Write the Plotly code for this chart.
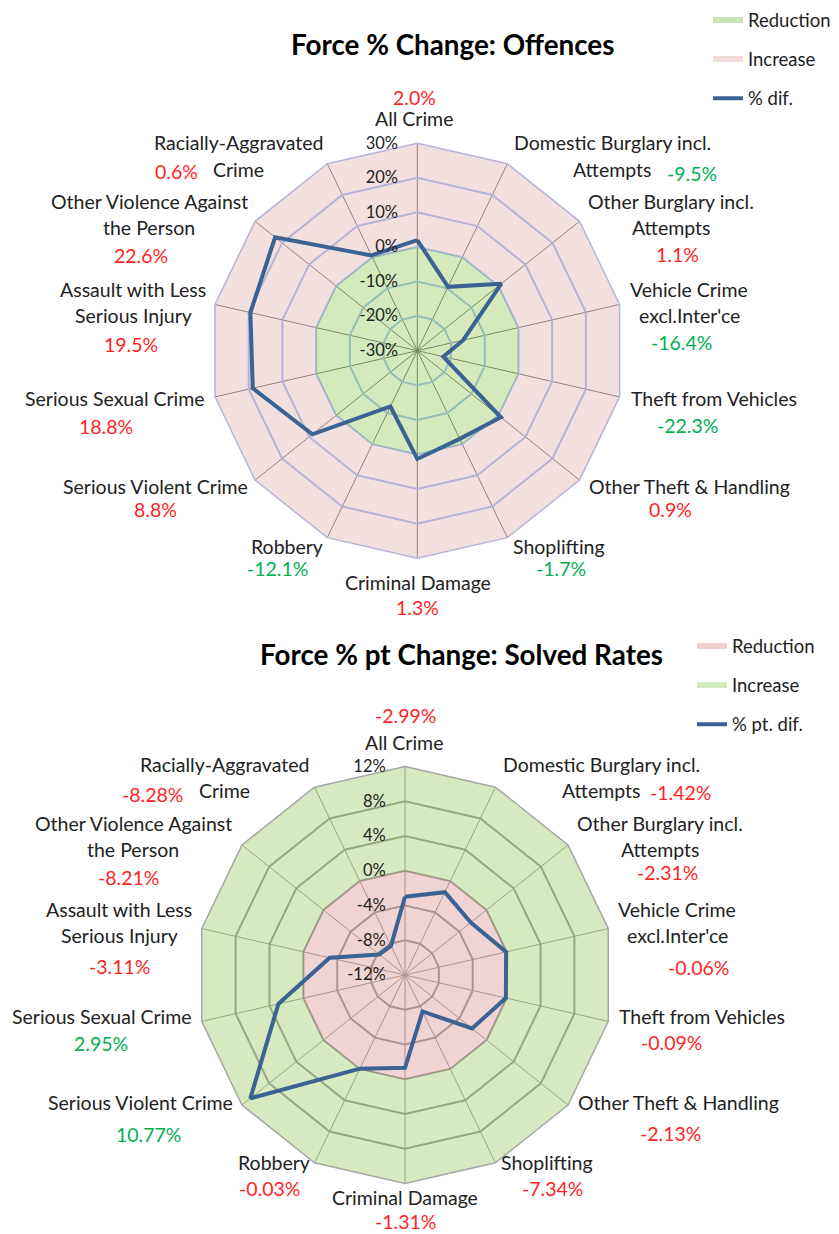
import plotly.graph_objects as go

W, H = 839, 1234

categories = [
    "All Crime", "Domestic Burglary incl. Attempts", "Other Burglary incl. Attempts",
    "Vehicle Crime excl.Inter'ce", "Theft from Vehicles", "Other Theft & Handling",
    "Shoplifting", "Criminal Damage", "Robbery", "Serious Violent Crime",
    "Serious Sexual Crime", "Assault with Less Serious Injury",
    "Other Violence Against the Person", "Racially-Aggravated Crime",
]
category_lines = [
    ["All Crime"], ["Domestic Burglary incl.", "Attempts"], ["Other Burglary incl.", "Attempts"],
    ["Vehicle Crime", "excl.Inter'ce"], ["Theft from Vehicles"], ["Other Theft & Handling"],
    ["Shoplifting"], ["Criminal Damage"], ["Robbery"], ["Serious Violent Crime"],
    ["Serious Sexual Crime"], ["Assault with Less", "Serious Injury"],
    ["Other Violence Against", "the Person"], ["Racially-Aggravated", "Crime"],
]
offences_change = [2.0, -9.5, 1.1, -16.4, -22.3, 0.9, -1.7, 1.3, -12.1, 8.8, 18.8, 19.5, 22.6, 0.6]
solved_change = [-2.99, -1.42, -2.31, -0.06, -0.09, -2.13, -7.34, -1.31, -0.03, 10.77, 2.95, -3.11, -8.21, -8.28]
offences_ticks = [-30, -20, -10, 0, 10, 20, 30]
solved_ticks = [-12, -8, -4, 0, 4, 8, 12]

# label placement (pixel centres): first line of name, then value
top_name_pos = [(414, 119), (612, 143), (671, 202), (689, 289), (714, 398), (689, 486), (559, 546),
                (418, 582), (287, 546), (155, 486), (115, 398), (133, 289), (149, 202), (238, 143)]
top_val_pos = [(414, 97), (692, 173), (677, 254), (681, 342), (687, 425), (670, 509), (561, 568),
               (417, 607), (277, 568), (155, 509), (106, 426), (131, 344), (141, 255), (176, 171)]
bot_name_pos = [(404, 742), (601, 764), (660, 823), (677, 909), (702, 1016), (678, 1102), (547, 1162),
                (405, 1197), (274, 1162), (140, 1102), (102, 1016), (119, 909), (133, 823), (224, 764)]
bot_val_pos = [(405, 715), (680, 793), (667, 872), (698, 967), (671, 1042), (670, 1133), (552, 1188),
               (405, 1221), (269, 1188), (148, 1134), (101, 1043), (119, 966), (128, 878), (152, 794)]

FONT = "Lato"
TXT = "#222222"
RED = "#ff1f1f"
GREEN = "#00b050"
LINE = "#3a6293"
LINE_GAP = 26
LABEL_SIZE = 19.5


def px(x):
    return x / W


def py(y):
    return 1 - y / H


def closed(vals):
    return list(vals) + [vals[0]]


theta = closed(categories)
# outer ring clockwise, then inner ring back the other way -> filled band with a hole
ring_theta = theta + [categories[0]] + categories[::-1]


def band(r_in, r_out):
    return [r_out] * 15 + [r_in] * 15


fig = go.Figure()

# ---- top chart: offences (Increase band 0..30 pink, Reduction -30..0 green)
fig.add_trace(go.Scatterpolar(r=band(0, offences_ticks[-1]), theta=ring_theta, mode="lines", fill="toself",
                              fillcolor="rgba(231,199,195,0.55)", line=dict(width=0),
                              subplot="polar", showlegend=False, hoverinfo="skip"))
fig.add_trace(go.Scatterpolar(r=[0] * 15, theta=theta, mode="lines", fill="toself",
                              fillcolor="rgba(177,217,133,0.55)", line=dict(width=0),
                              subplot="polar", showlegend=False, hoverinfo="skip"))
fig.add_trace(go.Scatterpolar(r=closed(offences_change), theta=theta, mode="lines",
                              line=dict(color=LINE, width=4), subplot="polar", showlegend=False))

# ---- bottom chart: solved rates (Increase band 0..12 green, Reduction -12..0 pink)
fig.add_trace(go.Scatterpolar(r=band(0, solved_ticks[-1]), theta=ring_theta, mode="lines", fill="toself",
                              fillcolor="rgba(182,215,141,0.55)", line=dict(width=0),
                              subplot="polar2", showlegend=False, hoverinfo="skip"))
fig.add_trace(go.Scatterpolar(r=[0] * 15, theta=theta, mode="lines", fill="toself",
                              fillcolor="rgba(228,177,177,0.55)", line=dict(width=0),
                              subplot="polar2", showlegend=False, hoverinfo="skip"))
fig.add_trace(go.Scatterpolar(r=closed(solved_change), theta=theta, mode="lines",
                              line=dict(color=LINE, width=4), subplot="polar2", showlegend=False))

# ---- legends
legend_items = [
    ("Reduction", "#c9e5b5", 6, "legend"), ("Increase", "#f2dcdb", 6, "legend"), ("% dif.", LINE, 4, "legend"),
    ("Reduction", "#f0cfcf", 6, "legend2"), ("Increase", "#d3eabf", 6, "legend2"), ("% pt. dif.", LINE, 4, "legend2"),
]
for i, (name, color, width, leg) in enumerate(legend_items):
    fig.add_trace(go.Scatterpolar(r=[None], theta=[categories[0]], mode="lines", name=name,
                                  line=dict(color=color, width=width), legend=leg,
                                  legendgroup=f"g{i}", subplot="polar" if leg == "legend" else "polar2"))


def polar_layout(ticks, domain_x, domain_y, radial_grid, spoke_grid, edge):
    return dict(
        domain=dict(x=domain_x, y=domain_y),
        gridshape="linear",
        bgcolor="rgba(0,0,0,0)",
        angularaxis=dict(type="category", categoryarray=categories, rotation=90, direction="clockwise",
                         showticklabels=False, ticks="", showline=True, linecolor=edge, linewidth=1.5,
                         gridcolor=spoke_grid, gridwidth=1),
        radialaxis=dict(range=[ticks[0], ticks[-1]], tickvals=ticks,
                        ticktext=[f"{t}%" for t in ticks], angle=90, tickangle=90,
                        side="counterclockwise", showline=False, ticks="outside", ticklen=13,
                        tickcolor="rgba(0,0,0,0)", gridcolor=radial_grid, gridwidth=1.5,
                        tickfont=dict(family=FONT, size=16.5, color=TXT)),
    )


cx1, cy1, r1 = 417.3, 350.7, 207.5
cx2, cy2, r2 = 405.0, 975.0, 208.5

annotations = []


def text_note(x, y, text, size, color):
    annotations.append(dict(x=px(x), y=py(y), xref="paper", yref="paper", text=text,
                            showarrow=False, xanchor="center", yanchor="middle",
                            font=dict(family=FONT, size=size, color=color)))


def add_labels(values, name_pos, val_pos, fmt, pos_color, neg_color):
    for i, v in enumerate(values):
        nx, ny = name_pos[i]
        for k, line in enumerate(category_lines[i]):
            text_note(nx, ny + k * LINE_GAP, line, LABEL_SIZE, TXT)
        vx, vy = val_pos[i]
        text_note(vx, vy, fmt.format(v), LABEL_SIZE, pos_color if v > 0 else neg_color)


add_labels(offences_change, top_name_pos, top_val_pos, "{:.1f}%", RED, GREEN)
add_labels(solved_change, bot_name_pos, bot_val_pos, "{:.2f}%", GREEN, RED)

text_note(452, 45, "<b>Force % Change: Offences</b>", 27.8, "#000000")
text_note(461, 654, "<b>Force % pt Change: Solved Rates</b>", 27.8, "#000000")

fig.update_layout(
    width=W, height=H,
    margin=dict(l=0, r=0, t=0, b=0),
    paper_bgcolor="white",
    font=dict(family=FONT, color=TXT),
    polar=polar_layout(offences_ticks, [px(cx1 - r1), px(cx1 + r1)], [py(cy1 + r1), py(cy1 - r1)],
                       "rgb(117,157,241)", "rgb(50,46,50)", "rgb(180,180,216)"),
    polar2=polar_layout(solved_ticks, [px(cx2 - r2), px(cx2 + r2)], [py(cy2 + r2), py(cy2 - r2)],
                        "rgb(110,110,110)", "rgb(110,110,110)", "rgb(166,166,166)"),
    legend=dict(x=px(708), y=py(1.5), xanchor="left", yanchor="top", traceorder="grouped",
                tracegroupgap=12, font=dict(family=FONT, size=18.5, color=TXT), bgcolor="rgba(0,0,0,0)"),
    legend2=dict(x=px(692), y=py(627.5), xanchor="left", yanchor="top", traceorder="grouped",
                 tracegroupgap=12, font=dict(family=FONT, size=18.5, color=TXT), bgcolor="rgba(0,0,0,0)"),
    annotations=annotations,
)

# the page's default 8px body margin would push the figure off the window
fig.write_html("out.html", config={"displayModeBar": False},
               post_script="document.body.style.margin = '0';")
